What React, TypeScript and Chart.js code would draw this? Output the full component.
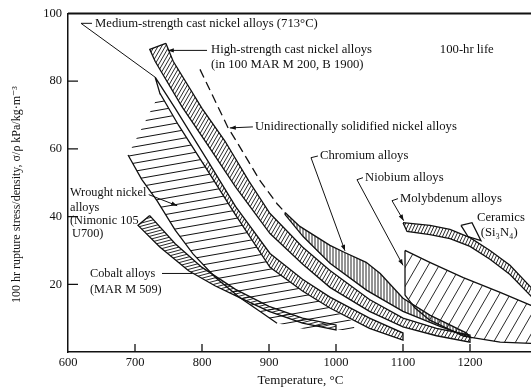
import React, { useEffect, useRef } from "react";
import { Chart, registerables } from "chart.js";
Chart.register(...registerables);

type P = [number, number];

// ---- axis ----
const xMin = 600;
const xMax = 1300;
const yMin = 0;
const yMax = 100;
const xTickValues = [600, 700, 800, 900, 1000, 1100, 1200];
const yTickValues = [20, 40, 60, 80, 100];

// ---- bands: [temperature °C, stress/density] ----
const highStrengthUpper: P[] = [[746, 91.2], [757, 85.9], [800, 72], [834, 62.4], [870, 50.5], [901.5, 40.9], [950, 31], [991, 24.1], [1050, 15.5], [1100, 10], [1150, 7], [1200, 5]];
const highStrengthLower: P[] = [[722, 89.4], [730, 85.9], [770, 72.5], [804.5, 62.4], [850, 48.8], [901.5, 35], [950, 26], [991, 19.1], [1050, 12], [1100, 7.4], [1150, 4.8], [1200, 2.9]];

const mediumUpper: P[] = [[730, 81.2], [760, 72], [807, 57], [850, 43], [901.5, 29.1], [950, 21.5], [991, 16.2], [1050, 10], [1100, 5.6]];
const mediumLower: P[] = [[737, 76.5], [765, 67], [807, 54], [850, 40.5], [901.5, 25], [950, 18], [991, 13], [1050, 7], [1100, 3.5]];

const wroughtRegion: P[] = [[737, 76.5], [765, 67], [807, 54], [850, 40.5], [901.5, 25], [950, 18], [991, 13], [1025, 9], [1028, 6.5], [960, 6.5], [912, 8.5], [890, 11.5], [856.7, 16], [820, 22], [786.6, 29], [760, 36], [732.8, 44.7], [710, 51], [689.6, 58.2], [737, 76.5]];
const wroughtEdge: P[] = [[689.6, 58.2], [710, 51], [732.8, 44.7], [760, 36], [786.6, 29], [820, 22], [856.7, 16], [890, 11.5], [912, 8.5]];

const cobaltUpper: P[] = [[722, 40.3], [760, 32], [800, 25], [850, 18.5], [900, 13.5], [950, 10], [1000, 8]];
const cobaltLower: P[] = [[704.5, 37.4], [737, 31], [780, 24], [820, 19.5], [857, 16], [900, 12], [950, 8.5], [1000, 6.5]];

const unidirectional: P[] = [[797, 83.5], [839, 66.2], [851, 62.4], [886.6, 50.6], [912, 43.8], [924, 41.2]];

const chromiumUpper: P[] = [[924, 41.2], [946, 37.1], [991, 31.5], [1013, 29.4], [1045, 26.5], [1066, 23.2], [1100, 15.9], [1140, 10.9], [1195, 5.6]];
const chromiumLower: P[] = [[924, 40.6], [951, 34.1], [991, 26.2], [1046, 18.2], [1100, 12], [1155, 7.6], [1200, 4.4]];

const niobiumUpper: P[] = [[1103, 30], [1140, 26.5], [1190, 22], [1245, 17.6], [1291, 13.8], [1310, 12.5]];
const niobiumLower: P[] = [[1103, 16.8], [1118, 13], [1140, 9.4], [1190, 4.7], [1245, 2.9], [1310, 2.4]];

const molybdenumUpper: P[] = [[1100, 38.2], [1140.3, 37.4], [1170.1, 36.2], [1200, 33.8], [1229.8, 30], [1259.7, 25.6], [1291, 19.1], [1312, 14.4]];
const molybdenumLower: P[] = [[1106, 35.6], [1140.3, 34.7], [1170.1, 33.5], [1200, 31.2], [1229.8, 27.4], [1259.7, 22.9], [1291, 16.5], [1312, 11.8]];

const ceramics: P[] = [[1186.5, 37.4], [1203, 38.2], [1216.4, 32.9], [1197, 34.1], [1186.5, 37.4]];

// ---- annotations ----
const noteTexts: [string, number, number][] = [
  ["Medium-strength cast nickel alloys (713°C)", 640.3, 97.1],
  ["High-strength cast nickel alloys", 813.4, 89.4],
  ["(in 100 MAR M 200, B 1900)", 813.4, 85],
  ["100-hr life", 1155, 89.4],
  ["Unidirectionally solidified nickel alloys", 879, 66.5],
  ["Chromium alloys", 976, 57.9],
  ["Niobium alloys", 1043.3, 51.5],
  ["Molybdenum alloys", 1095.5, 45.3],
  ["Ceramics", 1210.4, 39.7],
  ["(Si\u2083N\u2084)", 1216, 35.3],
];
const sideTexts: [string, number, number][] = [
  ["Wrought nickel", 603, 47.1],
  ["alloys", 603, 42.6],
  ["(Nimonic 105", 603, 38.8],
  ["U700)", 606, 35],
  ["Cobalt alloys", 632.8, 23.2],
  ["(MAR M 509)", 632.8, 18.5],
];

const leaders: { pts: P[]; arrow: boolean }[] = [
  { pts: [[635.8, 97.1], [619.4, 97.1], [729.9, 81.2]], arrow: false },
  { pts: [[807.5, 89.1], [749, 89.1]], arrow: true },
  { pts: [[876, 66.5], [841.5, 66.2]], arrow: true },
  { pts: [[973, 57.9], [962.7, 57.4], [1013.4, 29.9]], arrow: true },
  { pts: [[1040.3, 51.5], [1031.3, 50.9], [1100, 25.6]], arrow: true },
  { pts: [[1092.5, 45.3], [1083.6, 44.7], [1101, 38.8]], arrow: true },
  { pts: [[720.5, 46.5], [763, 43.2]], arrow: true },
  { pts: [[740.3, 23.2], [786, 23.2]], arrow: false },
];

const xTitle = "Temperature, °C";
const yTitle = "100 hr rupture stress/density, \u03C3/\u03C1 kPa/kg\u00B7m\u207B\u00B3";

const INK = "#111111";
const FONT = "'Liberation Serif', 'DejaVu Serif', serif";

const toXY = (arr: P[]) => arr.map(([x, y]) => ({ x, y }));
function polygon(upper: P[], lower: P[]) {
  const pts = [...upper, ...lower.slice().reverse(), upper[0]];
  return toXY(pts);
}

function drawHatch(chart: any, pts: any[], h: any) {
  const ctx = chart.ctx;
  const area = chart.chartArea;
  ctx.save();
  ctx.beginPath();
  ctx.rect(area.left, area.top, area.right - area.left, area.bottom - area.top);
  ctx.clip();
  ctx.beginPath();
  pts.forEach((p: any, k: number) => (k ? ctx.lineTo(p.x, p.y) : ctx.moveTo(p.x, p.y)));
  ctx.closePath();
  ctx.clip();
  if (h.below != null) {
    const yb = chart.scales.y.getPixelForValue(h.below);
    ctx.beginPath();
    ctx.rect(area.left, yb, area.right - area.left, area.bottom - yb + 5);
    ctx.clip();
  }
  const xs = pts.map((p: any) => p.x);
  const ys = pts.map((p: any) => p.y);
  const x0 = Math.min(...xs) - 2, x1 = Math.max(...xs) + 2;
  const y0 = Math.min(...ys) - 2, y1 = Math.max(...ys) + 2;
  const a = (h.angle * Math.PI) / 180;
  const dx = Math.cos(a), dy = -Math.sin(a);
  const nx = -dy, ny = dx;
  const proj = [[x0, y0], [x1, y0], [x0, y1], [x1, y1]].map(([cx, cy]) => cx * nx + cy * ny);
  const tmin = Math.floor(Math.min(...proj) / h.spacing) * h.spacing;
  const tmax = Math.max(...proj);
  const L = x1 - x0 + (y1 - y0) + 10;
  const cx = (x0 + x1) / 2, cy = (y0 + y1) / 2;
  const along = cx * dx + cy * dy;
  ctx.strokeStyle = INK;
  ctx.lineWidth = h.width || 0.9;
  ctx.beginPath();
  for (let t = tmin; t <= tmax; t += h.spacing) {
    const px = nx * t + dx * along, py = ny * t + dy * along;
    ctx.moveTo(px - dx * L, py - dy * L);
    ctx.lineTo(px + dx * L, py + dy * L);
  }
  ctx.stroke();
  ctx.restore();
}

const hatchPlugin = {
  id: "hatch",
  beforeDatasetsDraw(chart: any) {
    chart.data.datasets.forEach((ds: any, i: number) => {
      if (!ds.hatch) return;
      const meta = chart.getDatasetMeta(i);
      drawHatch(chart, meta.data, ds.hatch);
    });
  },
};

const decorPlugin = {
  id: "decor",
  afterDraw(chart: any) {
    const ctx = chart.ctx;
    const area = chart.chartArea;
    const xs = chart.scales.x, ys = chart.scales.y;
    const X = (v: number) => xs.getPixelForValue(v);
    const Y = (v: number) => ys.getPixelForValue(v);
    ctx.save();
    ctx.strokeStyle = INK;
    ctx.fillStyle = INK;
    // top frame line
    ctx.lineWidth = 2;
    ctx.beginPath();
    ctx.moveTo(area.left, area.top);
    ctx.lineTo(area.right, area.top);
    ctx.stroke();
    // inward ticks
    ctx.lineWidth = 1.3;
    ctx.beginPath();
    xTickValues.forEach((v) => {
      if (v === xMin) return;
      ctx.moveTo(X(v), area.bottom);
      ctx.lineTo(X(v), area.bottom - 8);
    });
    yTickValues.forEach((v) => {
      if (v === yMax) return;
      ctx.moveTo(area.left, Y(v));
      ctx.lineTo(area.left + 10, Y(v));
    });
    ctx.stroke();
    // leaders
    ctx.lineWidth = 1;
    leaders.forEach((ld) => {
      const pts = ld.pts.map(([a, b]) => [X(a), Y(b)]);
      ctx.beginPath();
      pts.forEach(([a, b], k) => (k ? ctx.lineTo(a, b) : ctx.moveTo(a, b)));
      ctx.stroke();
      if (ld.arrow) {
        const [ex, ey] = pts[pts.length - 1];
        const [sx, sy] = pts[pts.length - 2];
        const ang = Math.atan2(ey - sy, ex - sx);
        const len = 6, hw = 2.2;
        ctx.beginPath();
        ctx.moveTo(ex, ey);
        ctx.lineTo(ex - len * Math.cos(ang) + hw * Math.sin(ang), ey - len * Math.sin(ang) - hw * Math.cos(ang));
        ctx.lineTo(ex - len * Math.cos(ang) - hw * Math.sin(ang), ey - len * Math.sin(ang) + hw * Math.cos(ang));
        ctx.closePath();
        ctx.fill();
      }
    });
    // notes
    ctx.textAlign = "left";
    ctx.textBaseline = "middle";
    ctx.font = `12.7px ${FONT}`;
    noteTexts.forEach(([t, a, b]) => ctx.fillText(t, X(a), Y(b)));
    ctx.font = `12.3px ${FONT}`;
    sideTexts.forEach(([t, a, b]) => ctx.fillText(t, X(a), Y(b)));
    // axis titles
    ctx.textAlign = "center";
    ctx.font = `13px ${FONT}`;
    ctx.fillText(xTitle, (area.left + area.right) / 2 - 2, area.bottom + 29);
    ctx.translate(area.left - 51, area.top + 181);
    ctx.rotate(-Math.PI / 2);
    ctx.font = `12px ${FONT}`;
    ctx.fillText(yTitle, 0, 0);
    ctx.restore();
  },
};

const line = (data: any[], extra: any = {}) => ({
  data,
  showLine: true,
  borderColor: INK,
  borderWidth: 1.3,
  pointRadius: 0,
  pointHoverRadius: 0,
  fill: false,
  tension: 0,
  ...extra,
});

export default function App() {
  const ref = useRef<HTMLCanvasElement>(null);
  useEffect(() => {
    Chart.defaults.font.family = FONT;
    Chart.defaults.color = INK;
    const chart = new Chart(ref.current as HTMLCanvasElement, {
      type: "scatter",
      data: {
        datasets: [
          line(toXY(wroughtRegion), { showLine: false, hatch: { angle: 10, spacing: 8, width: 1 } }),
          line(toXY(wroughtEdge)),
          line(polygon(cobaltUpper, cobaltLower), { hatch: { angle: 15, spacing: 3, width: 0.9 } }),
          line(polygon(mediumUpper, mediumLower), { hatch: { angle: 60, spacing: 3, width: 0.9, below: 56 } }),
          line(polygon(highStrengthUpper, highStrengthLower), { hatch: { angle: 60, spacing: 3.2, width: 0.9 } }),
          line(toXY(unidirectional), { borderDash: [9, 5] }),
          line(polygon(chromiumUpper, chromiumLower), { hatch: { angle: 90, spacing: 3, width: 0.9 } }),
          line(polygon(niobiumUpper, niobiumLower), { hatch: { angle: 60, spacing: 9.5, width: 0.9 } }),
          line(polygon(molybdenumUpper, molybdenumLower), { hatch: { angle: 65, spacing: 3, width: 0.9 } }),
          line(toXY(ceramics)),
        ] as any,
      },
      options: {
        animation: false,
        responsive: false,
        events: [],
        layout: { padding: { top: 12, left: 0, right: 8, bottom: 0 } },
        plugins: { legend: { display: false }, tooltip: { enabled: false } },
        scales: {
          x: {
            type: "linear",
            min: xMin,
            max: xMax,
            afterFit: (s: any) => { s.height = 37; },
            afterBuildTicks: (s: any) => { s.ticks = xTickValues.map((v) => ({ value: v })); },
            ticks: { font: { family: FONT, size: 12.5 }, color: INK, padding: 3, maxRotation: 0, autoSkip: false, callback: (v: any) => String(v) },
            grid: { drawOnChartArea: false, drawTicks: false },
            border: { display: true, color: INK, width: 1.5 },
          },
          y: {
            min: yMin,
            max: yMax,
            afterFit: (s: any) => { s.width = 68; },
            afterBuildTicks: (s: any) => { s.ticks = yTickValues.map((v) => ({ value: v })); },
            ticks: { font: { family: FONT, size: 12.5 }, color: INK, padding: 6, callback: (v: any) => String(v) },
            grid: { drawOnChartArea: false, drawTicks: false },
            border: { display: true, color: INK, width: 1.5 },
          },
        },
      } as any,
      plugins: [hatchPlugin, decorPlugin],
    });
    return () => chart.destroy();
  }, []);
  return (
    <div style={{ position: "fixed", left: 0, top: 0, width: 531, height: 389, overflow: "hidden", background: "#fff" }}>
      <canvas ref={ref} width={545} height={389} style={{ display: "block", width: 545, height: 389 }} />
    </div>
  );
}
